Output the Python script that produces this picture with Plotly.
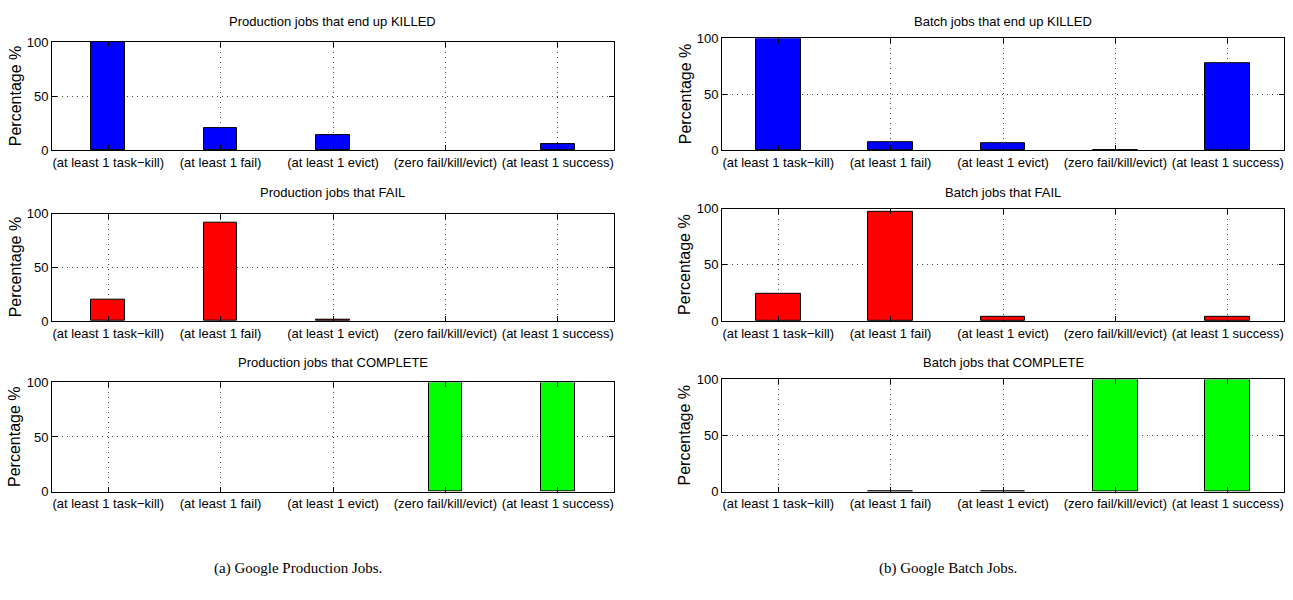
import plotly.graph_objects as go

# Job-outcome breakdown by task-event category
categories = [
    "(at least 1 task\u2212kill)",
    "(at least 1 fail)",
    "(at least 1 evict)",
    "(zero fail/kill/evict)",
    "(at least 1 success)",
]

prod_killed = [100, 21, 14.5, 0, 6]
prod_fail = [19.5, 92, 0.8, 0, 0]
prod_complete = [0, 0, 0, 100, 100]

batch_killed = [100, 7.5, 6, 0.4, 78]
batch_fail = [24, 97, 3.3, 0, 3.5]
batch_complete = [0, 0.3, 0.3, 100, 100]

panel_titles = [
    "Production jobs that end up KILLED",
    "Batch jobs that end up KILLED",
    "Production jobs that FAIL",
    "Batch jobs that FAIL",
    "Production jobs that COMPLETE",
    "Batch jobs that COMPLETE",
]
y_label = "Percentage %"
y_ticks = [0, 50, 100]
captions = ["(a) Google Production Jobs.", "(b) Google Batch Jobs."]

W, H = 1293, 600
SANS = "Liberation Sans, Arial, Helvetica, sans-serif"
SERIF = "Liberation Serif, Times New Roman, serif"

# pixel boxes (left, right) and (top, bottom) for each panel
left_cols = (52, 614)
right_cols = (722, 1284)
left_rows = [(36, 147), (212, 322), (385, 497)]
right_rows = [(32, 147), (207, 322), (382, 497)]
title_y = [15, 190, 365]

panels = [
    (prod_killed, "#0000ff", left_cols, left_rows[0], 0.3),
    (batch_killed, "#0000ff", right_cols, right_rows[0], 0.4),
    (prod_fail, "#ff0000", left_cols, left_rows[1], 0.3),
    (batch_fail, "#ff0000", right_cols, right_rows[1], 0.4),
    (prod_complete, "#00ff00", left_cols, left_rows[2], 0.3),
    (batch_complete, "#00ff00", right_cols, right_rows[2], 0.4),
]

fig = go.Figure()
x_pos = list(range(1, len(categories) + 1))
annotations = []

for i, (vals, color, cols, rows, bw) in enumerate(panels):
    n = i + 1
    xa = "x" if n == 1 else f"x{n}"
    ya = "y" if n == 1 else f"y{n}"
    # empty bars get no outline
    edge_w = [1 if v > 0 else 0 for v in vals]
    fig.add_trace(go.Bar(
        x=x_pos, y=vals, width=bw, xaxis=xa, yaxis=ya,
        marker=dict(color=color, line=dict(color="black", width=edge_w)),
        showlegend=False,
    ))
    dom_x = [cols[0] / W, cols[1] / W]
    dom_y = [1 - rows[1] / H, 1 - rows[0] / H]
    common = dict(
        showline=True, linecolor="black", linewidth=1, mirror="allticks",
        ticks="inside", ticklen=5, tickcolor="black", tickwidth=1,
        showgrid=True, gridcolor="#444444", gridwidth=1, griddash="1px,4px",
        zeroline=False, tickangle=0,
        tickfont=dict(family=SANS, size=13, color="black"),
    )
    fig.layout[f"xaxis{'' if n == 1 else n}"] = dict(
        domain=dom_x, anchor=ya, range=[0.5, 5.5],
        tickmode="array", tickvals=x_pos, ticktext=categories, **common,
    )
    fig.layout[f"yaxis{'' if n == 1 else n}"] = dict(
        domain=dom_y, anchor=xa, range=[0, 100],
        tickmode="array", tickvals=y_ticks, ticktext=[str(t) for t in y_ticks],
        **common,
    )
    row_idx = i // 2
    annotations.append(dict(
        text=panel_titles[i], xref="paper", yref="paper",
        x=(cols[0] + cols[1]) / 2 / W, y=1 - title_y[row_idx] / H,
        xanchor="center", yanchor="middle", showarrow=False,
        font=dict(family=SANS, size=13, color="black"),
    ))
    annotations.append(dict(
        text=y_label, xref="paper", yref="paper", textangle=-90,
        x=(cols[0] - 37) / W, y=1 - (rows[0] + rows[1]) / 2 / H,
        xanchor="center", yanchor="middle", showarrow=False,
        font=dict(family=SANS, size=16, color="black"),
    ))

for cx, txt in zip([298, 948], captions):
    annotations.append(dict(
        text=txt, xref="paper", yref="paper", x=cx / W, y=1 - 576 / H,
        xanchor="center", yanchor="middle", showarrow=False,
        font=dict(family=SERIF, size=15, color="black"),
    ))

fig.update_layout(
    width=W, height=H, margin=dict(l=0, r=0, t=0, b=0),
    paper_bgcolor="white", plot_bgcolor="white",
    annotations=annotations, bargap=0,
)

fig.write_html("out.html")
